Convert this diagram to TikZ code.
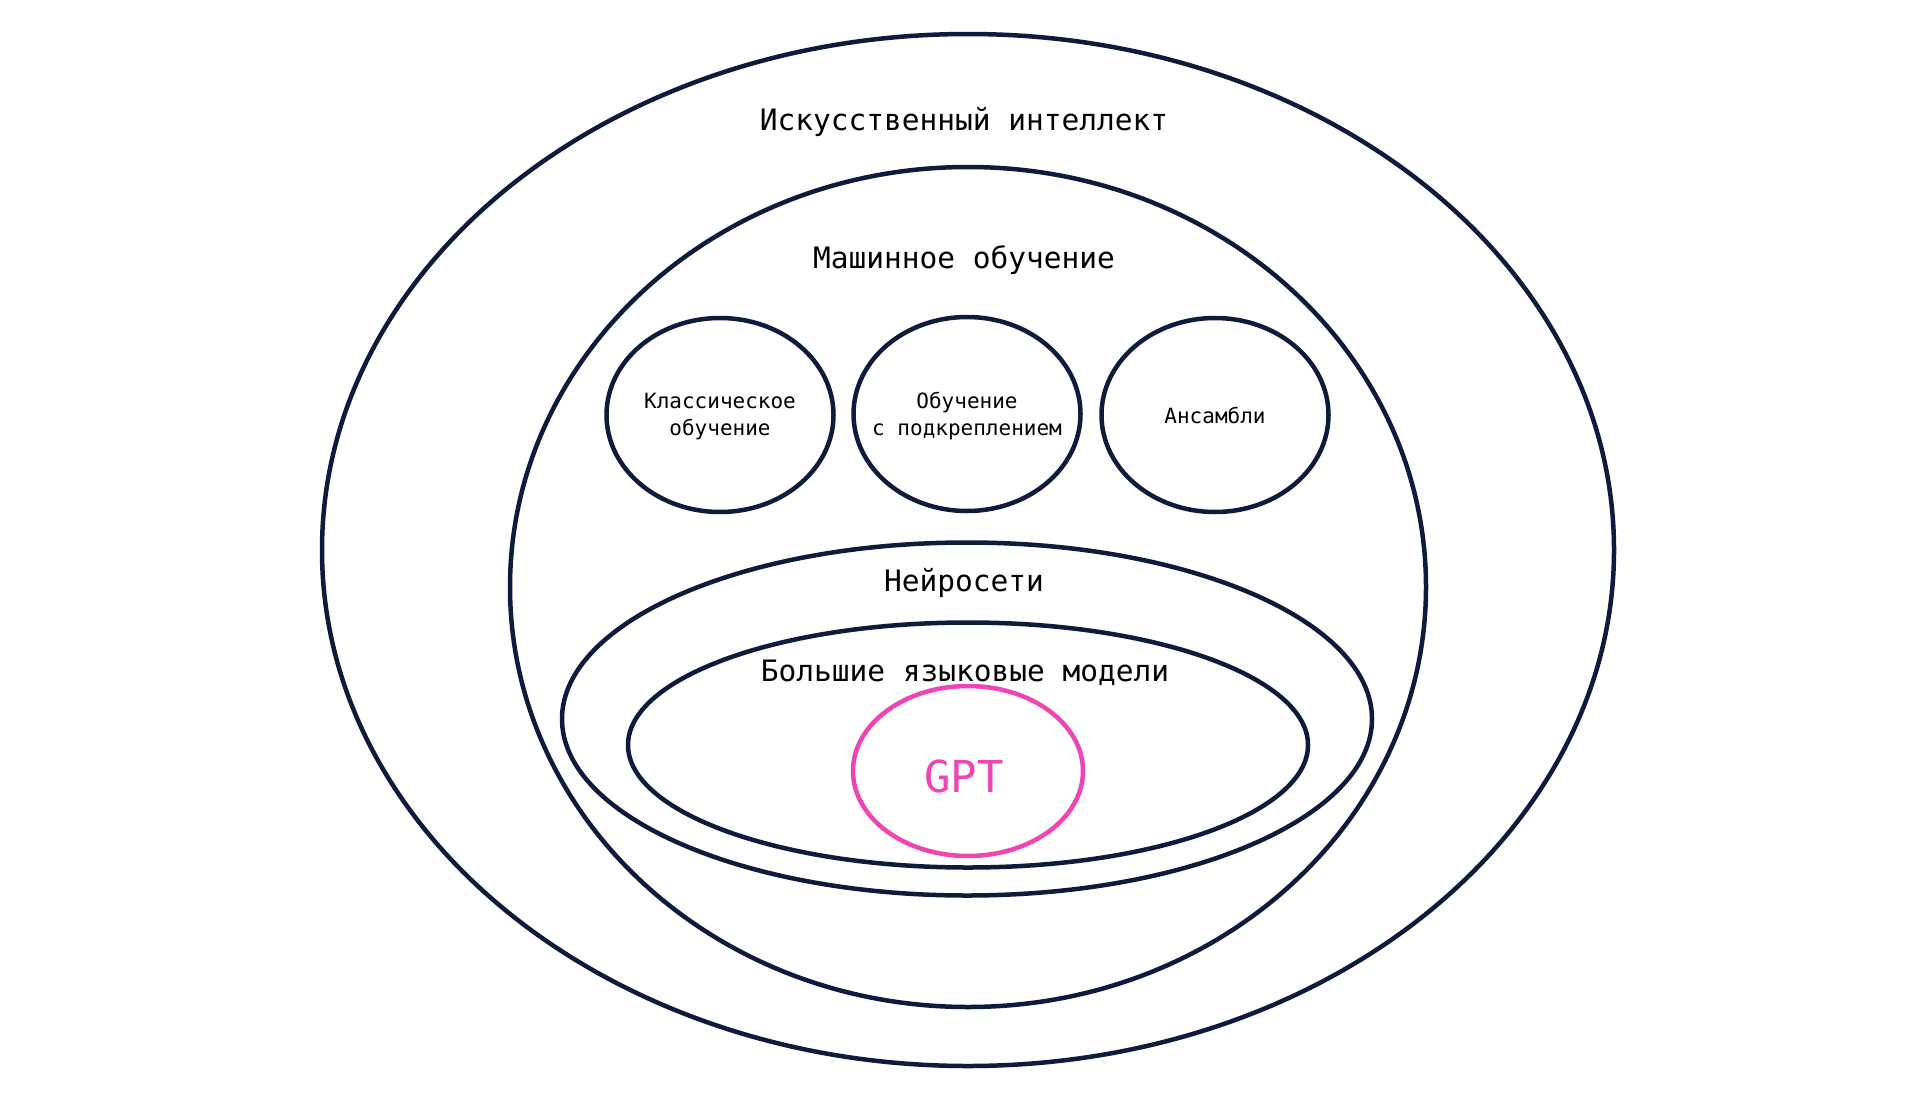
\documentclass[tikz,border=0pt]{standalone}
\usepackage{fontspec}
\setmainfont{DejaVu Sans Mono}
\usetikzlibrary{shapes.geometric}
\definecolor{navy}{HTML}{0E1B3D}
\definecolor{gptpink}{HTML}{EE45B5}
\begin{document}
\begin{tikzpicture}[x=1pt,y=-1pt,
  ring/.style={draw=navy,line width=4.5pt,ellipse,inner sep=0pt,outer sep=0pt},
  pinkring/.style={draw=gptpink,line width=4.5pt,ellipse,inner sep=0pt,outer sep=0pt},
  biglabel/.style={font=\fontsize{29.5}{34}\selectfont,text=black,inner sep=0pt},
  smalllabel/.style={font=\fontsize{21}{27}\selectfont,text=black,align=center,inner sep=0pt},
  gptlabel/.style={font=\fontsize{44}{50}\selectfont,text=gptpink,inner sep=0pt}]
\useasboundingbox[fill=white] (0,0) rectangle (1921,1092);
\node[ring,minimum width=1292pt,minimum height=1032pt] (ai) at (968,550) {};
\node[ring,minimum width=916pt,minimum height=840pt] (ml) at (968,587) {};
\node[ring,minimum width=227pt,minimum height=194pt] (c1) at (720,415) {};
\node[ring,minimum width=227pt,minimum height=194pt] (c2) at (967,414) {};
\node[ring,minimum width=227pt,minimum height=194pt] (c3) at (1215,415) {};
\node[ring,minimum width=810pt,minimum height=353pt] (nn) at (967,719) {};
\node[ring,minimum width=680pt,minimum height=245pt] (llm) at (968,745) {};
\node[pinkring,minimum width=230pt,minimum height=170pt] (gpt) at (968,771) {};
\node[biglabel] (ailabel) at (964,122) {Искусственный интеллект};
\node[biglabel] (mllabel) at (964,260) {Машинное обучение};
\node[smalllabel] (c1label) at ([yshift=-2pt]c1) {Классическое\\обучение};
\node[smalllabel] (c2label) at ([yshift=-2pt]c2) {Обучение\\с подкреплением};
\node[smalllabel] (c3label) at (c3) {Ансамбли};
\node[biglabel] (nnlabel) at (964,583) {Нейросети};
\node[biglabel] (llmlabel) at (965,673) {Большие языковые модели};
\node[gptlabel] (gptlabel) at (964,776) {GPT};
\end{tikzpicture}
\end{document}
